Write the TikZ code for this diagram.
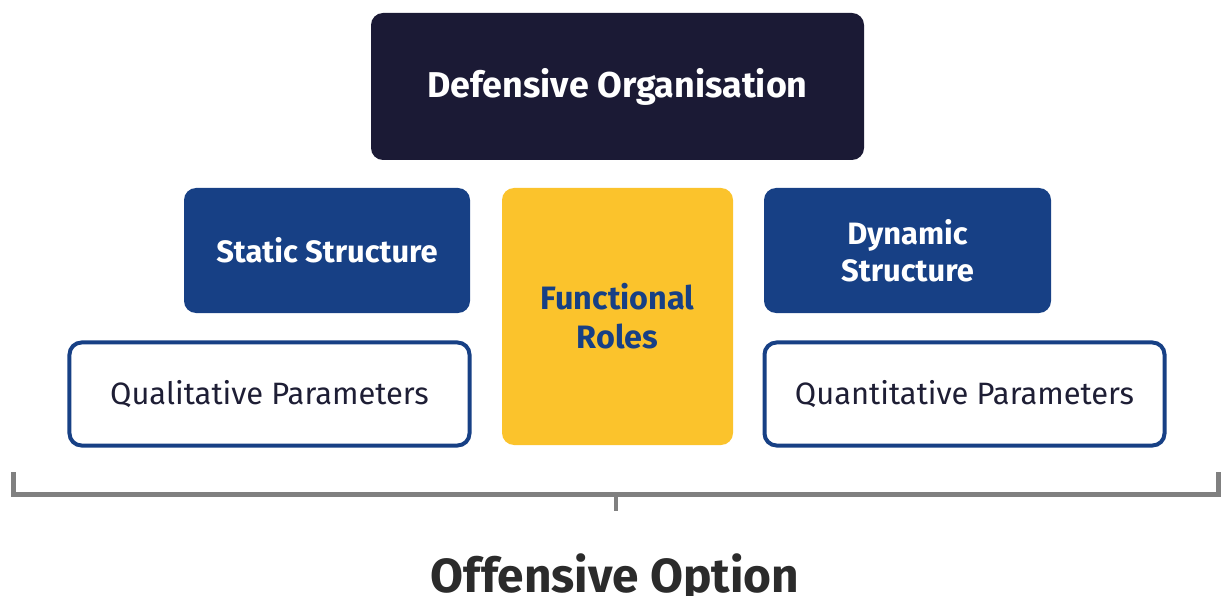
\documentclass[tikz,border=0pt]{standalone}
\usepackage{fontspec}
\setmainfont{Fira Sans}
\definecolor{navy}{HTML}{1B1A35}
\definecolor{royal}{HTML}{174085}
\definecolor{gold}{HTML}{FBC32C}
\definecolor{bracketgray}{HTML}{808080}
\definecolor{darktext}{HTML}{2B2B2B}
\definecolor{paramtext}{HTML}{1E1E35}
\begin{document}
\begin{tikzpicture}[x=1bp,y=-1bp,
  box/.style={rounded corners=12bp, inner sep=0pt, align=center},
  filledbox/.style={box, font=\fontsize{31}{37}\selectfont\bfseries, text=white},
  parambox/.style={box, draw=royal, line width=4bp, fill=white, text=paramtext, font=\fontsize{31}{36}\selectfont}]
\useasboundingbox (0,0) rectangle (1221,596);
\node[box, fill=navy, text=white, minimum width=493bp, minimum height=147bp,
  font=\fontsize{36}{42}\selectfont\bfseries] (def) at (617.5,86.5) {Defensive Organisation};
\node[filledbox, fill=royal, minimum width=286bp, minimum height=125bp] (static) at (327,250.5) {Static Structure};
\node[filledbox, fill=gold, text=royal, minimum width=231bp, minimum height=257bp,
  font=\fontsize{32.5}{39}\selectfont\bfseries] (func) at (617.5,316.5) {Functional\\Roles};
\node[filledbox, fill=royal, minimum width=287bp, minimum height=125bp] (dyn) at (907.5,250.5) {Dynamic\\Structure};
\node[parambox, minimum width=400bp, minimum height=103bp] (qual) at (269.5,394) {Qualitative Parameters};
\node[parambox, minimum width=400bp, minimum height=103bp] (quant) at (964.5,394) {Quantitative Parameters};
\coordinate (bl) at (13,472);
\coordinate (br) at (1218,472);
\coordinate (bm) at (616,494);
\draw[bracketgray, line width=5bp] (bl) |- (bm) -| (br);
\draw[bracketgray, line width=4bp] (bm) -- ++(0,17);
\node[font=\fontsize{48}{56}\selectfont\bfseries, text=darktext, anchor=base, inner sep=0pt] (off) at (615,592) {Offensive Option};
\end{tikzpicture}
\end{document}
